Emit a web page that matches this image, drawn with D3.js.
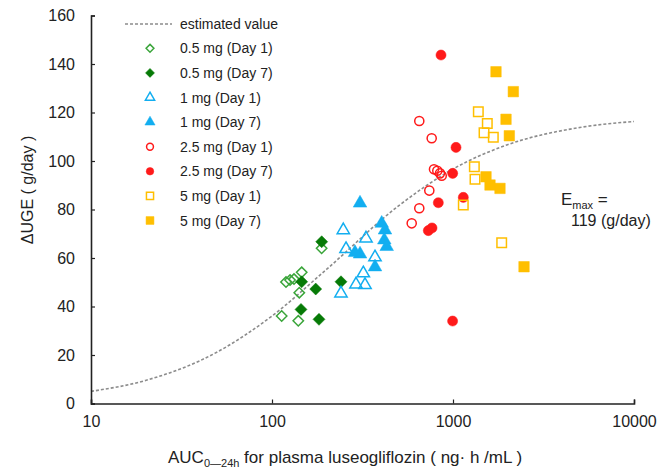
<!DOCTYPE html>
<html><head><meta charset="utf-8">
<script src="https://cdn.jsdelivr.net/npm/d3@7"></script>
<style>body{margin:0;background:#fff}svg{display:block}text{font-family:"Liberation Sans",Arial,sans-serif;fill:#222}</style>
</head><body><svg id="c" width="659" height="469"></svg>
<script>
// ---- data ----
const xTicks = [10, 100, 1000, 10000];
const yTicks = [0, 20, 40, 60, 80, 100, 120, 140, 160];
const curveAUC = [10, 20, 50, 100, 200, 500, 1000, 2000, 5000, 10000];
const curveUGE = [5.0, 9.5, 21.3, 36.1, 55.3, 81.5, 96.7, 106.7, 113.8, 116.3];
const d05_1_auc = [188, 119.5, 125.8, 132.3, 145.9, 141.5, 113.1, 139.7];
const d05_1_uge = [64.0, 50.1, 50.9, 51.3, 54.1, 45.7, 36.1, 34.1];
const d05_7_auc = [188.2, 145.9, 174.4, 240.5, 144.6, 181.8];
const d05_7_uge = [66.7, 50.2, 47.2, 50.2, 38.8, 34.7];
const d1_1_auc = [247.7, 256.4, 330.6, 370.7, 319.5, 291.1, 326.5, 240.5];
const d1_1_uge = [71.5, 63.7, 68.1, 60.3, 53.7, 49.1, 48.9, 45.4];
const d1_7_auc = [306.4, 403.7, 421, 417.3, 430.2, 306.4, 287.4, 370.7];
const d1_7_uge = [82.6, 74.3, 71.5, 67.4, 64.7, 61.6, 62.2, 56.3];
const d25_1_auc = [651.2, 762.6, 785.3, 819, 847.6, 866.3, 739.8, 651.2, 591.4];
const d25_1_uge = [116.5, 109.4, 96.6, 96.0, 94.9, 93.9, 87.8, 80.5, 74.3];
const d25_7_auc = [858.5, 1039, 996, 1140, 829.6, 730.4, 765.6, 995];
const d25_7_uge = [143.7, 105.6, 94.9, 85.0, 82.8, 71.3, 72.4, 34.0];
const d5_1_auc = [1380, 1547, 1484, 1670, 1312, 1323, 1140, 1858];
const d5_1_uge = [120.3, 115.5, 111.7, 109.8, 97.6, 92.5, 81.9, 66.3];
const d5_7_auc = [1728, 2154, 1963, 2047, 1522, 1601, 1818, 2468];
const d5_7_uge = [136.8, 128.6, 117.2, 110.4, 93.5, 90.1, 88.7, 56.4];
const seriesNames = ["0.5 mg (Day 1)", "0.5 mg (Day 7)", "1 mg (Day 1)", "1 mg (Day 7)",
  "2.5 mg (Day 1)", "2.5 mg (Day 7)", "5 mg (Day 1)", "5 mg (Day 7)"];

// ---- styles ----
const styles = [
  {shape: "diamond", color: "#3aa53a", filled: false},
  {shape: "diamond", color: "#067a06", filled: true},
  {shape: "triangle", color: "#12aef0", filled: false},
  {shape: "triangle", color: "#12aef0", filled: true},
  {shape: "circle", color: "#ff1a1a", filled: false},
  {shape: "circle", color: "#ff1a1a", filled: true},
  {shape: "square", color: "#ffbf00", filled: false},
  {shape: "square", color: "#ffbf00", filled: true}
];
const seriesData = [
  [d05_1_auc, d05_1_uge], [d05_7_auc, d05_7_uge], [d1_1_auc, d1_1_uge], [d1_7_auc, d1_7_uge],
  [d25_1_auc, d25_1_uge], [d25_7_auc, d25_7_uge], [d5_1_auc, d5_1_uge], [d5_7_auc, d5_7_uge]
];

const svg = d3.select("#c");
const x = d3.scaleLog().domain([10, 10000]).range([91, 634]);
const y = d3.scaleLinear().domain([0, 160]).range([403.5, 15.5]);

const types = {triangle: d3.symbolTriangle, circle: d3.symbolCircle, square: d3.symbolSquare};
function symPath(shape, filled, k) {
  if (shape === "diamond") {
    const r = (filled ? 6 : 5.2) * k;
    return `M0,${-r}L${r},0L0,${r}L${-r},0Z`;
  }
  const sizes = {triangle: 80, circle: 80, square: 110};
  let s = sizes[shape] * k * k;
  if (!filled) s *= 0.82;
  return d3.symbol().type(types[shape]).size(s)();
}
function drawMarker(g, st, cx, cy, k) {
  g.append("path")
    .attr("d", symPath(st.shape, st.filled, k))
    .attr("transform", `translate(${cx},${cy})`)
    .attr("fill", st.filled ? st.color : "none")
    .attr("stroke", st.color)
    .attr("stroke-width", st.filled ? 0.5 : 1.5);
}

// estimated curve
const line = d3.line().x((d, i) => x(curveAUC[i])).y(d => y(d)).curve(d3.curveMonotoneX);
svg.append("path").attr("d", line(curveUGE)).attr("fill", "none")
  .attr("stroke", "#8c8c8c").attr("stroke-width", 1.6).attr("stroke-dasharray", "3,2");

// points
const pg = svg.append("g");
seriesData.forEach((sd, si) => {
  sd[0].forEach((a, i) => drawMarker(pg, styles[si], x(a), y(sd[1][i]), 1));
});

// axes
const xAxis = d3.axisBottom(x).tickValues(xTicks).tickSize(-4).tickFormat(d3.format("d")).tickPadding(12);
const gx = svg.append("g").attr("transform", "translate(0,403.5)").call(xAxis);
const yAxis = d3.axisLeft(y).tickValues(yTicks).tickSize(-4).tickPadding(16);
const gy = svg.append("g").attr("transform", "translate(91,0)").call(yAxis);
[gx, gy].forEach(g => {
  g.select(".domain").attr("stroke", "#222").attr("stroke-width", 1.6);
  g.selectAll(".tick line").attr("stroke", "#222").attr("stroke-width", 1.2);
  g.selectAll(".tick text").attr("font-size", 16).attr("font-family", "Liberation Sans, Arial, sans-serif").attr("fill", "#222");
});

// axis titles
svg.append("text").attr("transform", "translate(33,190) rotate(-90)").attr("text-anchor", "middle")
  .attr("font-size", 16).text("ΔUGE ( g/day )");
const xt = svg.append("text").attr("x", 168).attr("y", 463).attr("font-size", 17);
xt.append("tspan").text("AUC");
xt.append("tspan").attr("font-size", 11).attr("dy", 4).text("0\u201424h");
xt.append("tspan").attr("dy", -4).text(" for  plasma luseogliflozin ( ng\u00b7 h /mL )");

// Emax annotation
const em = svg.append("text").attr("x", 561).attr("y", 205).attr("font-size", 17);
em.append("tspan").text("E");
em.append("tspan").attr("font-size", 11).attr("dy", 4).text("max");
em.append("tspan").attr("dy", -4).text(" =");
svg.append("text").attr("x", 571).attr("y", 226).attr("font-size", 16).text("119 (g/day)");

// legend
svg.append("line").attr("x1", 125).attr("x2", 172).attr("y1", 24).attr("y2", 24)
  .attr("stroke", "#8c8c8c").attr("stroke-width", 1.4).attr("stroke-dasharray", "3,2");
svg.append("text").attr("x", 180).attr("y", 29).attr("font-size", 14).text("estimated value");
const lg = svg.append("g");
seriesNames.forEach((n, i) => {
  const ly = 48.3 + i * 24.6;
  drawMarker(lg, styles[i], 150, ly, 0.75);
  lg.append("text").attr("x", 180).attr("y", ly + 5).attr("font-size", 14).text(n);
});
</script></body></html>
